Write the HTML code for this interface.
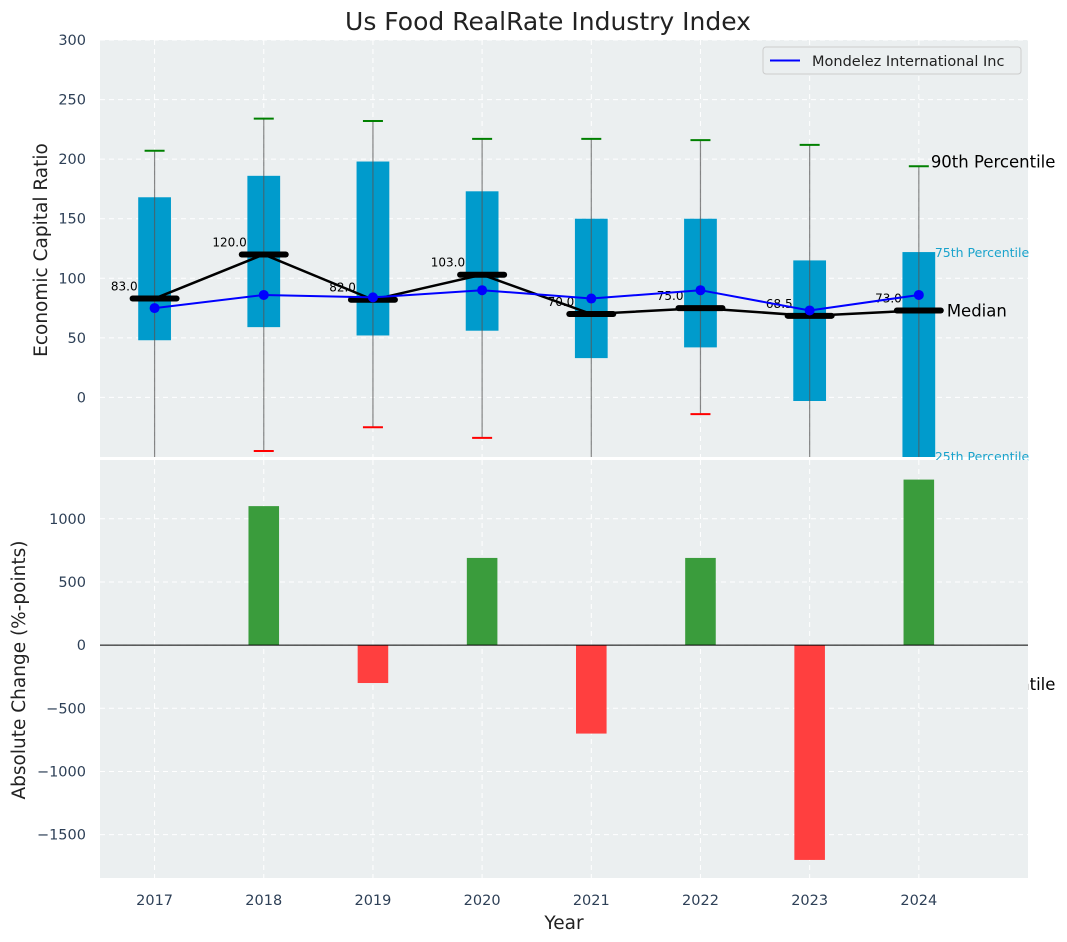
<!DOCTYPE html>
<html><head><meta charset="utf-8"><style>
html,body{margin:0;padding:0;background:#fff}
svg{display:block;font-family:"DejaVu Sans","Liberation Sans",sans-serif}
</style></head><body>
<svg id="c" width="1067" height="942" viewBox="0 0 1067 942"></svg>
<script>
const years=[2017,2018,2019,2020,2021,2022,2023,2024];
const q25=[48,59,52,56,33,42,-3,-80];
const q75=[168,186,198,173,150,150,115,122];
const p10=[-80,-45,-25,-34,-80,-14,-80,-80];
const p90=[207,234,232,217,217,216,212,194];
const medians=[83,120,82,103,70,75,68.5,73];
const medianLabels=["83.0","120.0","82.0","103.0","70.0","75.0","68.5","73.0"];
const company=[75,86,84,90,83,90,73,86];
const changes=[0,1100,-300,690,-700,690,-1700,1310];
const topTicks=[0,50,100,150,200,250,300];
const botTicks=[-1500,-1000,-500,0,500,1000];

const NS="http://www.w3.org/2000/svg";
const svg=document.getElementById('c');
function mk(tag,attrs,parent,text){const e=document.createElementNS(NS,tag);for(const k in attrs)e.setAttribute(k,attrs[k]);if(text!==undefined)e.textContent=text;(parent||svg).appendChild(e);return e;}
const L=100,R=1028;
const T1=40,B1=457,T2=460,B2=878;
const x=v=>L+(v-2016.5)/(2025-2016.5)*(R-L);
const y1=v=>T1+(300-v)/350*(B1-T1);
const y2=v=>T2+(1465-v)/(1465+1843)*(B2-T2);
const tickCol="#2e4057";
const fmt=v=>v<0?'\u2212'+Math.abs(v):String(v);

let t=mk('text',{x:548,y:30,'text-anchor':'middle','font-size':25,fill:'#222'},svg,'Us Food RealRate Industry Index');


mk('text',{x:x(2024)+12,y:690,'font-size':16.5,fill:'#000'},svg,'10th Percentile');

let g1=mk('g',{});
mk('rect',{x:L,y:T1,width:R-L,height:B1-T1,fill:'#ebeff0'},g1);
const cp1=mk('clipPath',{id:'cp1'},svg);mk('rect',{x:L,y:T1,width:R-L,height:B1-T1},cp1);
topTicks.forEach(v=>{
 mk('line',{x1:L,x2:R,y1:y1(v),y2:y1(v),stroke:'#fff','stroke-dasharray':'5,4','stroke-width':1},g1);
 let tx=mk('text',{x:L-14,y:y1(v)+5,'text-anchor':'end','font-size':14.5,fill:tickCol},g1,fmt(v));
 
});
years.forEach(yr=>mk('line',{x1:x(yr),x2:x(yr),y1:T1,y2:B1,stroke:'#fff','stroke-dasharray':'5,4'},g1));
const pl=mk('g',{'clip-path':'url(#cp1)'},g1);
const bw=(x(1)-x(0))*0.3;
years.forEach((yr,i)=>{
 let r=mk('rect',{x:x(yr)-bw/2,y:y1(q75[i]),width:bw,height:y1(q25[i])-y1(q75[i]),fill:'#009bcc'},pl);
 
 mk('line',{x1:x(yr),x2:x(yr),y1:y1(p90[i]),y2:y1(p10[i]),stroke:'#555','stroke-opacity':0.7,'stroke-width':1.2},pl);
 mk('line',{x1:x(yr)-10,x2:x(yr)+10,y1:y1(p90[i]),y2:y1(p90[i]),stroke:'green','stroke-width':2},pl);
 mk('line',{x1:x(yr)-10,x2:x(yr)+10,y1:y1(p10[i]),y2:y1(p10[i]),stroke:'red','stroke-width':2},pl);
});
mk('polyline',{points:years.map((yr,i)=>x(yr)+','+y1(medians[i])).join(' '),fill:'none',stroke:'#000','stroke-width':2.5},pl);
years.forEach((yr,i)=>{
 let m=mk('line',{x1:x(yr)-22,x2:x(yr)+22,y1:y1(medians[i]),y2:y1(medians[i]),stroke:'#000','stroke-width':6,'stroke-linecap':'round'},pl);
 
 mk('text',{x:x(yr)-17,y:y1(medians[i])-8,'text-anchor':'end','font-size':12,fill:'#000'},pl,medianLabels[i]);
});
let cl=mk('polyline',{points:years.map((yr,i)=>x(yr)+','+y1(company[i])).join(' '),fill:'none',stroke:'#0000ff','stroke-width':2},pl);

years.forEach((yr,i)=>{let c=mk('circle',{cx:x(yr),cy:y1(company[i]),r:5,fill:'#0000ff'},pl);});
const lx=x(2024);
mk('text',{x:lx+12,y:y1(194)+1,'font-size':16.5,fill:'#000'},svg,'90th Percentile');
mk('text',{x:lx+16,y:y1(122)+5,'font-size':12.5,fill:'#1aa3cc'},svg,'75th Percentile');
mk('text',{x:lx+28,y:y1(73)+6,'font-size':16.5,fill:'#000'},svg,'Median');
mk('text',{x:lx+16,y:B1+4,'font-size':12.5,fill:'#1aa3cc'},svg,'25th Percentile');
let lg=mk('g',{});
mk('rect',{x:763,y:47,width:258,height:27,rx:3,fill:'#ebeff0',stroke:'#ccc'},lg);
mk('line',{x1:770,x2:800,y1:60.5,y2:60.5,stroke:'#0000ff','stroke-width':2},lg);
mk('text',{x:812,y:66,'font-size':14.5,fill:'#222'},lg,'Mondelez International Inc');
let yl=mk('text',{transform:'translate(47,250) rotate(-90)','text-anchor':'middle','font-size':18.5,fill:'#222'},svg,'Economic Capital Ratio');


let g2=mk('g',{});
mk('rect',{x:L,y:T2,width:R-L,height:B2-T2,fill:'#ebeff0'},g2);
botTicks.forEach(v=>{
 mk('line',{x1:L,x2:R,y1:y2(v),y2:y2(v),stroke:'#fff','stroke-dasharray':'5,4'},g2);
 let tx=mk('text',{x:L-14,y:y2(v)+5,'text-anchor':'end','font-size':14.5,fill:tickCol},g2,fmt(v));
 
});
years.forEach(yr=>{
 mk('line',{x1:x(yr),x2:x(yr),y1:T2,y2:B2,stroke:'#fff','stroke-dasharray':'5,4'},g2);
 let tx=mk('text',{x:x(yr),y:B2+27,'text-anchor':'middle','font-size':14.5,fill:tickCol},g2,String(yr));
 
});
const bbw=(x(1)-x(0))*0.28;
years.forEach((yr,i)=>{
 const v=changes[i];if(v===0)return;
 let b=mk('rect',{x:x(yr)-bbw/2,y:Math.min(y2(v),y2(0)),width:bbw,height:Math.abs(y2(v)-y2(0)),fill:v>0?'#3a9c3c':'#ff3f3f'},g2);
 
});
mk('line',{x1:L,x2:R,y1:y2(0),y2:y2(0),stroke:'#000','stroke-width':1},g2);
let yl2=mk('text',{transform:'translate(25,670) rotate(-90)','text-anchor':'middle','font-size':18.5,fill:'#222'},svg,'Absolute Change (%-points)');

let xl=mk('text',{x:564,y:929,'text-anchor':'middle','font-size':18.5,fill:'#222'},svg,'Year');

</script>
</body></html>
